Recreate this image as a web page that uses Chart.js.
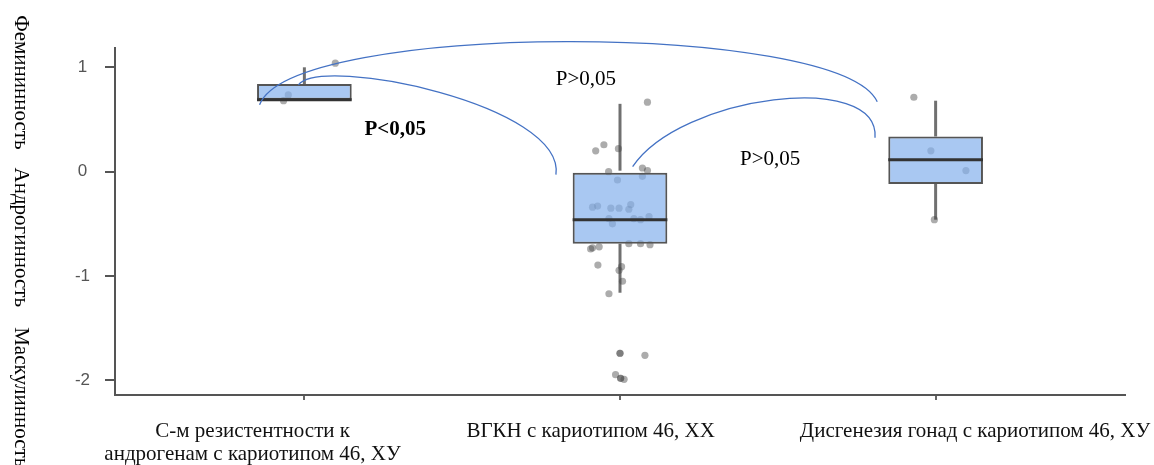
<!DOCTYPE html>
<html>
<head>
<meta charset="utf-8">
<script src="https://cdn.jsdelivr.net/npm/chart.js@4/dist/chart.umd.min.js"></script>
<style>
  html, body { margin: 0; padding: 0; background: #fff; }
  #wrap { width: 1154px; height: 465px; }
</style>
</head>
<body>
<div id="wrap"><canvas id="boxChart"></canvas></div>
<script>
// groups
const groupX = [1, 2, 3];
const groupLabels = [
	['С-м резистентности к', 'андрогенам с кариотипом 46, ХУ'],
	['ВГКН с кариотипом 46, ХХ'],
	['Дисгенезия гонад с кариотипом 46, ХУ']
];
// where each group caption is centred (x value)
const labelX = [0.836, 1.907, 3.125];

// box statistics
const whiskerLow = [0.69, -1.16, -0.46];
const q1 = [0.69, -0.69, -0.117];
const median = [0.69, -0.46, 0.115];
const q3 = [0.84, 0.0, 0.337];
const whiskerHigh = [1.0, 0.65, 0.68];

// jittered observations (x position, value)
const pointsX = [
	0.934, 1.098, 0.949,
	2.087, 1.949, 1.923, 1.995, 1.964, 2.071, 2.087, 1.992, 2.071,
	1.929, 1.913, 1.971, 1.997, 2.034, 2.028, 1.965, 1.976, 2.044,
	2.092, 2.065, 1.913, 1.934, 1.907, 2.028, 2.065, 2.095, 1.930,
	2.005, 1.997, 2.008, 1.965, 2.0, 2.0, 2.079, 1.986, 2.002, 2.002, 2.013,
	2.931, 2.985, 3.096, 2.996
];
const pointsY = [
	0.68, 1.04, 0.735,
	0.666, 0.258, 0.20, 0.22, 0.0, 0.035, 0.01, -0.08, -0.045,
	-0.33, -0.34, -0.35, -0.35, -0.315, -0.36, -0.45, -0.50, -0.45,
	-0.43, -0.46, -0.73, -0.72, -0.74, -0.69, -0.69, -0.70, -0.895,
	-0.91, -0.945, -1.05, -1.17, -1.74, -1.74, -1.76, -1.945, -1.98, -1.98, -1.99,
	0.713, 0.2, 0.01, -0.46
];

const yTicks = [-2, -1, 0, 1];
const yTitles = ['Фемининность', 'Андрогинность', 'Маскулинность'];
const yTitleStart = [1.50, 0.04, -1.49];

// comparison arcs: cubic curves, [x0,y0, x1,y1, x2,y2, x3,y3] in data units
const arcs = [
	[0.858, 0.641, 0.959, 1.444, 2.698, 1.444, 2.815, 0.669],
	[0.981, 0.832, 1.054, 1.119, 1.828, 0.641, 1.797, -0.029],
	[2.040, 0.048, 2.192, 0.736, 2.824, 0.975, 2.808, 0.325]
];
const pTexts = ['P<0,05', 'P>0,05', 'P>0,05'];
const pTextX = [1.288, 1.892, 2.476];
const pTextY = [0.354, 0.832, 0.067];
const pTextBold = [true, false, false];

const X_MIN = 0.4, X_MAX = 3.6;
const Y_MIN = -2.14, Y_MAX = 1.185;
const BOX_HALF = 0.15;
const SERIF = "'Liberation Serif', 'Times New Roman', serif";

const boxData = groupX.map((x, i) => ({ x: x, y: [q1[i], q3[i]] }));
const lowData = groupX.map((x, i) => ({ x: x, y: [whiskerLow[i], q1[i]] }));
const highData = groupX.map((x, i) => ({ x: x, y: [q3[i], whiskerHigh[i]] }));
const pointData = pointsX.map((x, i) => ({ x: x, y: pointsY[i] }));
const medianData = [];
groupX.forEach((x, i) => {
	medianData.push({ x: x - BOX_HALF, y: median[i] });
	medianData.push({ x: x + BOX_HALF, y: median[i] });
	medianData.push({ x: x + BOX_HALF, y: null });
});

const annotations = {
	id: 'annotations',
	afterDatasetsDraw(chart) {
		const { ctx, scales: { x, y } } = chart;
		ctx.save();
		// arcs
		ctx.strokeStyle = '#4472c4';
		ctx.lineWidth = 1.3;
		arcs.forEach(a => {
			ctx.beginPath();
			ctx.moveTo(x.getPixelForValue(a[0]), y.getPixelForValue(a[1]));
			ctx.bezierCurveTo(
				x.getPixelForValue(a[2]), y.getPixelForValue(a[3]),
				x.getPixelForValue(a[4]), y.getPixelForValue(a[5]),
				x.getPixelForValue(a[6]), y.getPixelForValue(a[7]));
			ctx.stroke();
		});
		// p values
		ctx.fillStyle = '#000';
		ctx.textAlign = 'center';
		ctx.textBaseline = 'alphabetic';
		pTexts.forEach((t, i) => {
			ctx.font = (pTextBold[i] ? 'bold ' : '') + '21px ' + SERIF;
			ctx.fillText(t, x.getPixelForValue(pTextX[i]), y.getPixelForValue(pTextY[i]));
		});
		// rotated side titles
		ctx.font = '21px ' + SERIF;
		ctx.textAlign = 'left';
		yTitles.forEach((t, i) => {
			ctx.save();
			ctx.translate(15, y.getPixelForValue(yTitleStart[i]));
			ctx.rotate(Math.PI / 2);
			ctx.fillText(t, 0, 0);
			ctx.restore();
		});
		ctx.restore();
	}
};

const noSidePadding = s => {
	s.paddingLeft = 0;
	s.paddingRight = 0;
};

new Chart(document.getElementById('boxChart'), {
	type: 'bar',
	data: {
		datasets: [
			{
				type: 'line',
				data: medianData,
				borderColor: '#333',
				borderWidth: 3,
				pointRadius: 0,
				spanGaps: false,
				order: 0
			},
			{
				data: boxData,
				backgroundColor: 'rgba(133, 176, 236, 0.7)',
				borderColor: '#555',
				borderWidth: 2,
				borderSkipped: false,
				grouped: false,
				categoryPercentage: 1,
				barPercentage: BOX_HALF * 2,
				order: 1
			},
			{
				type: 'scatter',
				data: pointData,
				backgroundColor: 'rgba(70, 70, 70, 0.45)',
				borderWidth: 0,
				pointRadius: 3.6,
				order: 2
			},
			{
				data: lowData,
				backgroundColor: '#707070',
				borderWidth: 0,
				grouped: false,
				categoryPercentage: 1,
				barPercentage: 0.0095,
				order: 3
			},
			{
				data: highData,
				backgroundColor: '#707070',
				borderWidth: 0,
				grouped: false,
				categoryPercentage: 1,
				barPercentage: 0.0095,
				order: 3
			}
		]
	},
	options: {
		responsive: true,
		maintainAspectRatio: false,
		animation: false,
		layout: { padding: { left: 0, top: 48, right: 29, bottom: 0 } },
		plugins: { legend: { display: false }, tooltip: { enabled: false } },
		scales: {
			x: {
				type: 'linear',
				position: 'bottom',
				weight: 0,
				min: X_MIN,
				max: X_MAX,
				offset: false,
				afterBuildTicks: s => { s.ticks = groupX.map(v => ({ value: v })); },
				afterFit: s => { s.height = 6; noSidePadding(s); },
				ticks: { display: false },
				grid: { offset: false, drawOnChartArea: false, tickLength: 5, color: '#666', lineWidth: 2 },
				border: { display: true, color: '#555', width: 2 }
			},
			x2: {
				type: 'linear',
				position: 'bottom',
				weight: 1,
				min: X_MIN,
				max: X_MAX,
				offset: false,
				afterBuildTicks: s => { s.ticks = labelX.map(v => ({ value: v })); },
				afterFit: s => { s.height = 64; noSidePadding(s); },
				ticks: {
					autoSkip: false,
					maxRotation: 0,
					minRotation: 0,
					padding: 19,
					color: '#111',
					font: { family: SERIF, size: 21, lineHeight: 1.1 },
					callback: (v, i) => groupLabels[i]
				},
				grid: { display: false, offset: false, drawTicks: false },
				border: { display: false }
			},
			y: {
				type: 'linear',
				min: Y_MIN,
				max: Y_MAX,
				afterBuildTicks: s => { s.ticks = yTicks.map(v => ({ value: v })); },
				afterFit: s => { s.width = 115; },
				ticks: {
					crossAlign: 'center',
					padding: 15,
					color: '#555',
					font: { family: "'Liberation Sans', Arial, sans-serif", size: 17 }
				},
				grid: { drawOnChartArea: false, tickLength: 10, color: '#555', lineWidth: 2 },
				border: { display: true, color: '#555', width: 2 }
			}
		}
	},
	plugins: [annotations]
});
</script>
</body>
</html>
